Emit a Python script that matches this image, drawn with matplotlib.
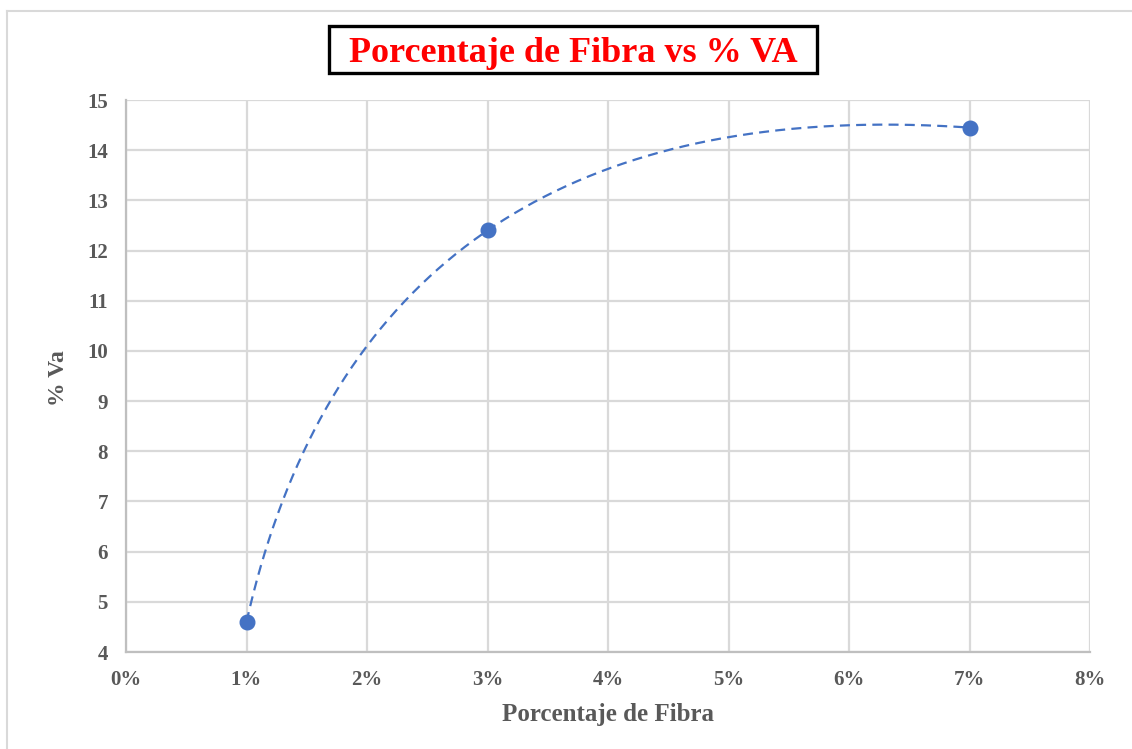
import numpy as np
import matplotlib.pyplot as plt
from matplotlib.ticker import FuncFormatter

# datos
fibra = [0.01, 0.03, 0.07]
va = [4.6, 12.4, 14.45]
x_ticks = [0, 0.01, 0.02, 0.03, 0.04, 0.05, 0.06, 0.07, 0.08]
y_ticks = [4, 5, 6, 7, 8, 9, 10, 11, 12, 13, 14, 15]

azul = '#4472C4'
gris = '#595959'
serif = ['Liberation Serif', 'DejaVu Serif']

W, H = 1132, 749
fig = plt.figure(figsize=(W / 100, H / 100), dpi=100)
ax = fig.add_axes([126 / W, 1 - 652 / H, 964 / W, 552 / H])

ax.set_xlim(0, 0.08)
ax.set_ylim(4, 15)
ax.set_xticks(x_ticks)
ax.set_yticks(y_ticks)
ax.xaxis.set_major_formatter(FuncFormatter(lambda v, p: f'{v * 100:.0f}%'))
ax.grid(True, color='#d9d9d9', linewidth=1.6)
ax.set_axisbelow(True)
for s in ['top', 'right']:
    ax.spines[s].set_visible(False)
for s in ['left', 'bottom']:
    ax.spines[s].set_color('#bfbfbf')
    ax.spines[s].set_linewidth(1.6)
ax.tick_params(length=0, pad=13, labelsize=15, labelcolor=gris)
for lab in ax.get_xticklabels() + ax.get_yticklabels():
    lab.set_family(serif)
    lab.set_fontweight('bold')

# linea suavizada: interpolacion parametrica en pixeles (t = 0, 1, 2, ...)
pts = ax.transData.transform(np.column_stack([fibra, va]))
t = np.arange(len(pts))
tt = np.linspace(0, t[-1], 300)
cx = np.polyval(np.polyfit(t, pts[:, 0], len(pts) - 1), tt)
cy = np.polyval(np.polyfit(t, pts[:, 1], len(pts) - 1), tt)
curva = ax.transData.inverted().transform(np.column_stack([cx, cy]))

ax.plot(curva[:, 0], curva[:, 1], color=azul, linewidth=1.6,
        linestyle=(0, (4.5, 2.8)), clip_on=False)
ax.plot(fibra, va, 'o', color=azul, markersize=10.5, clip_on=False, zorder=3)

fig.text(608 / W, 1 - 714 / H, 'Porcentaje de Fibra', ha='center', va='center',
         family=serif, fontweight='bold', fontsize=18, color=gris)
fig.text(58 / W, 1 - 378 / H, '% Va', ha='center', va='center', rotation=90,
         family=serif, fontweight='bold', fontsize=17, color=gris)

# titulo en recuadro
fig.add_artist(plt.Rectangle((329 / W, 1 - 73 / H), 488 / W, 47 / H, transform=fig.transFigure,
                             facecolor='white', edgecolor='black', linewidth=2.4))
fig.text(573 / W, 1 - 53 / H, 'Porcentaje de Fibra vs % VA', ha='center', va='center',
         family=serif, fontweight='bold', fontsize=26, color='red')

# marco del grafico
fig.add_artist(plt.Line2D([7 / W, 7 / W], [0, 1 - 11 / H], transform=fig.transFigure,
                          color='#d9d9d9', linewidth=1.5))
fig.add_artist(plt.Line2D([7 / W, 1], [1 - 11 / H, 1 - 11 / H], transform=fig.transFigure,
                          color='#d9d9d9', linewidth=1.5))

fig.savefig('out.png', dpi=100)
